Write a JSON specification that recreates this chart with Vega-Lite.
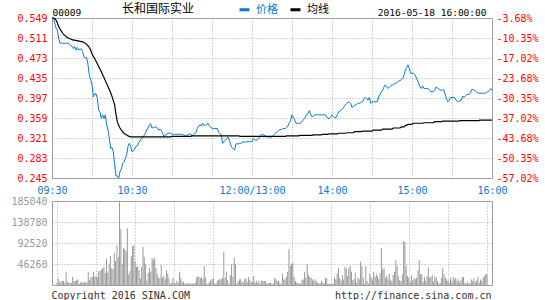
{
"$schema": "https://vega.github.io/schema/vega-lite/v6.json",
"padding": {"left": 10, "top": 3, "right": 5, "bottom": 0},
"bounds": "flush",
"spacing": 23,
"config": {
  "font": "DejaVu Sans Mono",
  "view": {"stroke": "#9a9a9a", "strokeWidth": 1},
  "axis": {"gridColor": "#aaaaaa", "gridDash": [1, 2], "gridWidth": 1, "domain": false, "ticks": false, "labelFont": "DejaVu Sans Mono", "labelFontSize": 10, "titleFont": "DejaVu Sans Mono", "titleFontWeight": "normal"}
},
"datasets": {"m": [
{"t":0,"p":0.549,"a":0.549,"v":5100},{"t":1,"p":0.549,"a":0.549,"v":14000},{"t":2,"p":0.540,"a":0.548,"v":5100},{"t":3,"p":0.530,"a":0.545,"v":7300},{"t":4,"p":0.526,"a":0.540,"v":8800},
{"t":5,"p":0.510,"a":0.533,"v":8800},{"t":6,"p":0.501,"a":0.528,"v":5100},{"t":7,"p":0.501,"a":0.524,"v":29400},{"t":8,"p":0.501,"a":0.520,"v":7300},{"t":9,"p":0.501,"a":0.517,"v":5100},
{"t":10,"p":0.501,"a":0.515,"v":5100},{"t":11,"p":0.501,"a":0.513,"v":5100},{"t":12,"p":0.501,"a":0.511,"v":18400},{"t":13,"p":0.499,"a":0.510,"v":8800},{"t":14,"p":0.497,"a":0.509,"v":8800},
{"t":15,"p":0.495,"a":0.508,"v":10300},{"t":16,"p":0.491,"a":0.507,"v":12500},{"t":17,"p":0.495,"a":0.507,"v":2900},{"t":18,"p":0.488,"a":0.506,"v":5100},{"t":19,"p":0.493,"a":0.506,"v":7300},
{"t":20,"p":0.488,"a":0.505,"v":5100},{"t":21,"p":0.490,"a":0.505,"v":7300},{"t":22,"p":0.490,"a":0.504,"v":4400},{"t":23,"p":0.485,"a":0.504,"v":6600},{"t":24,"p":0.475,"a":0.502,"v":29400},
{"t":25,"p":0.473,"a":0.501,"v":10300},{"t":26,"p":0.474,"a":0.499,"v":17600},{"t":27,"p":0.460,"a":0.496,"v":17600},{"t":28,"p":0.440,"a":0.493,"v":29400},{"t":29,"p":0.432,"a":0.488,"v":17600},
{"t":30,"p":0.422,"a":0.481,"v":20600},{"t":31,"p":0.399,"a":0.476,"v":17600},{"t":32,"p":0.405,"a":0.472,"v":30800},{"t":33,"p":0.405,"a":0.467,"v":30800},{"t":34,"p":0.396,"a":0.462,"v":34500},
{"t":35,"p":0.374,"a":0.457,"v":36700},{"t":36,"p":0.370,"a":0.452,"v":39600},{"t":37,"p":0.358,"a":0.447,"v":27200},{"t":38,"p":0.365,"a":0.441,"v":58000},{"t":39,"p":0.358,"a":0.436,"v":27200},
{"t":40,"p":0.365,"a":0.430,"v":45500},{"t":41,"p":0.346,"a":0.424,"v":63900},{"t":42,"p":0.336,"a":0.419,"v":36700},{"t":43,"p":0.320,"a":0.413,"v":34500},{"t":44,"p":0.301,"a":0.407,"v":71200},
{"t":45,"p":0.303,"a":0.400,"v":52800},{"t":46,"p":0.295,"a":0.392,"v":87300},{"t":47,"p":0.270,"a":0.384,"v":61700},{"t":48,"p":0.249,"a":0.366,"v":185040},{"t":49,"p":0.249,"a":0.352,"v":122600},
{"t":50,"p":0.245,"a":0.345,"v":45500},{"t":51,"p":0.257,"a":0.340,"v":82200},{"t":52,"p":0.262,"a":0.336,"v":78500},{"t":53,"p":0.273,"a":0.333,"v":74900},{"t":54,"p":0.275,"a":0.330,"v":124800},
{"t":55,"p":0.282,"a":0.328,"v":23500},{"t":56,"p":0.289,"a":0.327,"v":30800},{"t":57,"p":0.305,"a":0.325,"v":63900},{"t":58,"p":0.311,"a":0.324,"v":85900},{"t":59,"p":0.305,"a":0.323,"v":88100},
{"t":60,"p":0.295,"a":0.323,"v":51400},{"t":61,"p":0.297,"a":0.323,"v":39600},{"t":62,"p":0.300,"a":0.323,"v":41800},{"t":63,"p":0.305,"a":0.323,"v":32300},{"t":64,"p":0.306,"a":0.323,"v":14700},
{"t":65,"p":0.312,"a":0.323,"v":39600},{"t":66,"p":0.316,"a":0.323,"v":83700},{"t":67,"p":0.320,"a":0.323,"v":61700},{"t":68,"p":0.322,"a":0.323,"v":45500},{"t":69,"p":0.326,"a":0.323,"v":8800},
{"t":70,"p":0.330,"a":0.323,"v":27200},{"t":71,"p":0.336,"a":0.323,"v":38200},{"t":72,"p":0.340,"a":0.323,"v":29400},{"t":73,"p":0.346,"a":0.323,"v":60200},{"t":74,"p":0.348,"a":0.323,"v":55800},
{"t":75,"p":0.340,"a":0.323,"v":60200},{"t":76,"p":0.341,"a":0.323,"v":36700},{"t":77,"p":0.342,"a":0.323,"v":23500},{"t":78,"p":0.342,"a":0.323,"v":14700},{"t":79,"p":0.340,"a":0.323,"v":16100},
{"t":80,"p":0.336,"a":0.323,"v":44000},{"t":81,"p":0.338,"a":0.323,"v":16100},{"t":82,"p":0.335,"a":0.323,"v":19800},{"t":83,"p":0.330,"a":0.323,"v":12500},{"t":84,"p":0.323,"a":0.323,"v":32300},
{"t":85,"p":0.327,"a":0.323,"v":25000},{"t":86,"p":0.328,"a":0.323,"v":14700},{"t":87,"p":0.330,"a":0.323,"v":2900},{"t":88,"p":0.330,"a":0.323,"v":5100},{"t":89,"p":0.330,"a":0.323,"v":16100},
{"t":90,"p":0.328,"a":0.324,"v":5100},{"t":91,"p":0.328,"a":0.324,"v":2900},{"t":92,"p":0.328,"a":0.324,"v":8800},{"t":93,"p":0.328,"a":0.324,"v":5100},{"t":94,"p":0.328,"a":0.324,"v":29400},
{"t":95,"p":0.328,"a":0.324,"v":16100},{"t":96,"p":0.328,"a":0.324,"v":7300},{"t":97,"p":0.328,"a":0.324,"v":7300},{"t":98,"p":0.327,"a":0.324,"v":2900},{"t":99,"p":0.327,"a":0.324,"v":2900},
{"t":100,"p":0.325,"a":0.324,"v":4400},{"t":101,"p":0.326,"a":0.324,"v":2900},{"t":102,"p":0.327,"a":0.324,"v":5100},{"t":103,"p":0.328,"a":0.324,"v":2900},{"t":104,"p":0.329,"a":0.324,"v":2900},
{"t":105,"p":0.325,"a":0.325,"v":2900},{"t":106,"p":0.328,"a":0.325,"v":5100},{"t":107,"p":0.330,"a":0.325,"v":16100},{"t":108,"p":0.331,"a":0.325,"v":19800},{"t":109,"p":0.339,"a":0.325,"v":17600},
{"t":110,"p":0.344,"a":0.325,"v":14700},{"t":111,"p":0.346,"a":0.325,"v":17600},{"t":112,"p":0.344,"a":0.325,"v":12500},{"t":113,"p":0.349,"a":0.325,"v":41800},{"t":114,"p":0.344,"a":0.325,"v":16100},
{"t":115,"p":0.346,"a":0.325,"v":2900},{"t":116,"p":0.347,"a":0.325,"v":2900},{"t":117,"p":0.349,"a":0.325,"v":7300},{"t":118,"p":0.344,"a":0.325,"v":10300},{"t":119,"p":0.342,"a":0.325,"v":13200},
{"t":120,"p":0.339,"a":0.325,"v":14700},{"t":121,"p":0.339,"a":0.325,"v":2900},{"t":122,"p":0.339,"a":0.325,"v":2900},{"t":123,"p":0.339,"a":0.325,"v":8800},{"t":124,"p":0.339,"a":0.325,"v":11700},
{"t":125,"p":0.332,"a":0.325,"v":12500},{"t":126,"p":0.329,"a":0.325,"v":12500},{"t":127,"p":0.327,"a":0.325,"v":16100},{"t":128,"p":0.311,"a":0.325,"v":73400},{"t":129,"p":0.314,"a":0.325,"v":16100},
{"t":130,"p":0.317,"a":0.325,"v":29400},{"t":131,"p":0.320,"a":0.325,"v":10300},{"t":132,"p":0.323,"a":0.325,"v":2900},{"t":133,"p":0.317,"a":0.325,"v":22000},{"t":134,"p":0.308,"a":0.325,"v":45500},
{"t":135,"p":0.303,"a":0.325,"v":18400},{"t":136,"p":0.300,"a":0.325,"v":60200},{"t":137,"p":0.298,"a":0.325,"v":45500},{"t":138,"p":0.310,"a":0.325,"v":2900},{"t":139,"p":0.310,"a":0.325,"v":8800},
{"t":140,"p":0.310,"a":0.325,"v":12500},{"t":141,"p":0.311,"a":0.324,"v":12500},{"t":142,"p":0.311,"a":0.324,"v":7300},{"t":143,"p":0.314,"a":0.324,"v":5100},{"t":144,"p":0.313,"a":0.324,"v":12500},
{"t":145,"p":0.313,"a":0.324,"v":14700},{"t":146,"p":0.314,"a":0.324,"v":7300},{"t":147,"p":0.314,"a":0.324,"v":17600},{"t":148,"p":0.314,"a":0.324,"v":10300},{"t":149,"p":0.314,"a":0.324,"v":7300},
{"t":150,"p":0.314,"a":0.324,"v":7300},{"t":151,"p":0.320,"a":0.324,"v":19800},{"t":152,"p":0.317,"a":0.324,"v":5100},{"t":153,"p":0.317,"a":0.324,"v":8800},{"t":154,"p":0.317,"a":0.324,"v":4400},
{"t":155,"p":0.320,"a":0.324,"v":8800},{"t":156,"p":0.323,"a":0.324,"v":2900},{"t":157,"p":0.328,"a":0.324,"v":10000},{"t":158,"p":0.328,"a":0.324,"v":8800},{"t":159,"p":0.326,"a":0.324,"v":8800},
{"t":160,"p":0.325,"a":0.324,"v":8800},{"t":161,"p":0.323,"a":0.324,"v":2900},{"t":162,"p":0.323,"a":0.324,"v":4400},{"t":163,"p":0.323,"a":0.324,"v":4400},{"t":164,"p":0.323,"a":0.324,"v":5100},
{"t":165,"p":0.323,"a":0.324,"v":2900},{"t":166,"p":0.326,"a":0.324,"v":2900},{"t":167,"p":0.329,"a":0.324,"v":16100},{"t":168,"p":0.331,"a":0.324,"v":12500},{"t":169,"p":0.333,"a":0.324,"v":8800},
{"t":170,"p":0.335,"a":0.324,"v":8800},{"t":171,"p":0.337,"a":0.324,"v":5100},{"t":172,"p":0.337,"a":0.324,"v":2900},{"t":173,"p":0.339,"a":0.324,"v":25000},{"t":174,"p":0.339,"a":0.324,"v":12500},
{"t":175,"p":0.339,"a":0.324,"v":12500},{"t":176,"p":0.341,"a":0.325,"v":17600},{"t":177,"p":0.344,"a":0.325,"v":29400},{"t":178,"p":0.350,"a":0.325,"v":78500},{"t":179,"p":0.355,"a":0.325,"v":41800},
{"t":180,"p":0.365,"a":0.325,"v":45500},{"t":181,"p":0.360,"a":0.325,"v":49200},{"t":182,"p":0.355,"a":0.325,"v":17600},{"t":183,"p":0.349,"a":0.325,"v":8800},{"t":184,"p":0.349,"a":0.325,"v":5100},
{"t":185,"p":0.349,"a":0.325,"v":5100},{"t":186,"p":0.349,"a":0.326,"v":2900},{"t":187,"p":0.351,"a":0.326,"v":2900},{"t":188,"p":0.354,"a":0.326,"v":10300},{"t":189,"p":0.357,"a":0.326,"v":12500},
{"t":190,"p":0.361,"a":0.326,"v":29400},{"t":191,"p":0.365,"a":0.326,"v":16100},{"t":192,"p":0.368,"a":0.326,"v":45500},{"t":193,"p":0.373,"a":0.326,"v":22000},{"t":194,"p":0.366,"a":0.326,"v":17600},
{"t":195,"p":0.361,"a":0.326,"v":16100},{"t":196,"p":0.363,"a":0.327,"v":12500},{"t":197,"p":0.365,"a":0.327,"v":8800},{"t":198,"p":0.365,"a":0.327,"v":12500},{"t":199,"p":0.365,"a":0.327,"v":8800},
{"t":200,"p":0.365,"a":0.327,"v":5100},{"t":201,"p":0.365,"a":0.327,"v":5100},{"t":202,"p":0.365,"a":0.327,"v":2900},{"t":203,"p":0.365,"a":0.328,"v":8800},{"t":204,"p":0.365,"a":0.328,"v":5100},
{"t":205,"p":0.365,"a":0.328,"v":5100},{"t":206,"p":0.361,"a":0.328,"v":14700},{"t":207,"p":0.358,"a":0.328,"v":16100},{"t":208,"p":0.358,"a":0.329,"v":2900},{"t":209,"p":0.360,"a":0.329,"v":2900},
{"t":210,"p":0.365,"a":0.329,"v":2900},{"t":211,"p":0.362,"a":0.329,"v":2900},{"t":212,"p":0.360,"a":0.329,"v":2900},{"t":213,"p":0.360,"a":0.329,"v":16100},{"t":214,"p":0.365,"a":0.329,"v":12500},
{"t":215,"p":0.371,"a":0.330,"v":25000},{"t":216,"p":0.372,"a":0.330,"v":36700},{"t":217,"p":0.374,"a":0.330,"v":16100},{"t":218,"p":0.377,"a":0.330,"v":8800},{"t":219,"p":0.380,"a":0.330,"v":22000},
{"t":220,"p":0.384,"a":0.330,"v":12500},{"t":221,"p":0.387,"a":0.331,"v":40400},{"t":222,"p":0.389,"a":0.331,"v":36700},{"t":223,"p":0.389,"a":0.331,"v":19800},{"t":224,"p":0.387,"a":0.331,"v":36700},
{"t":225,"p":0.379,"a":0.331,"v":41800},{"t":226,"p":0.381,"a":0.331,"v":29400},{"t":227,"p":0.383,"a":0.333,"v":10300},{"t":228,"p":0.384,"a":0.333,"v":12500},{"t":229,"p":0.387,"a":0.333,"v":27200},
{"t":230,"p":0.387,"a":0.333,"v":5100},{"t":231,"p":0.387,"a":0.333,"v":16100},{"t":232,"p":0.389,"a":0.333,"v":12500},{"t":233,"p":0.390,"a":0.334,"v":51400},{"t":234,"p":0.396,"a":0.334,"v":41800},
{"t":235,"p":0.398,"a":0.334,"v":16100},{"t":236,"p":0.396,"a":0.334,"v":2900},{"t":237,"p":0.393,"a":0.334,"v":41800},{"t":238,"p":0.398,"a":0.334,"v":8800},{"t":239,"p":0.387,"a":0.334,"v":2900},
{"t":240,"p":0.390,"a":0.334,"v":25000},{"t":241,"p":0.390,"a":0.336,"v":17600},{"t":242,"p":0.390,"a":0.336,"v":12500},{"t":243,"p":0.390,"a":0.336,"v":29400},{"t":244,"p":0.390,"a":0.336,"v":17600},
{"t":245,"p":0.399,"a":0.336,"v":25000},{"t":246,"p":0.404,"a":0.336,"v":19800},{"t":247,"p":0.408,"a":0.336,"v":12500},{"t":248,"p":0.412,"a":0.338,"v":27200},{"t":249,"p":0.418,"a":0.338,"v":80700},
{"t":250,"p":0.422,"a":0.338,"v":34500},{"t":251,"p":0.418,"a":0.338,"v":38200},{"t":252,"p":0.415,"a":0.338,"v":16100},{"t":253,"p":0.418,"a":0.338,"v":19800},{"t":254,"p":0.420,"a":0.338,"v":12500},
{"t":255,"p":0.422,"a":0.338,"v":25000},{"t":256,"p":0.422,"a":0.340,"v":10300},{"t":257,"p":0.424,"a":0.340,"v":8800},{"t":258,"p":0.425,"a":0.340,"v":22000},{"t":259,"p":0.427,"a":0.340,"v":29400},
{"t":260,"p":0.429,"a":0.340,"v":54300},{"t":261,"p":0.430,"a":0.340,"v":41800},{"t":262,"p":0.432,"a":0.342,"v":19800},{"t":263,"p":0.434,"a":0.342,"v":10300},{"t":264,"p":0.440,"a":0.342,"v":8800},
{"t":265,"p":0.450,"a":0.345,"v":23500},{"t":266,"p":0.455,"a":0.345,"v":96900},{"t":267,"p":0.460,"a":0.347,"v":95000},{"t":268,"p":0.453,"a":0.347,"v":41800},{"t":269,"p":0.444,"a":0.347,"v":19800},
{"t":270,"p":0.444,"a":0.347,"v":16100},{"t":271,"p":0.444,"a":0.349,"v":7300},{"t":272,"p":0.441,"a":0.349,"v":22000},{"t":273,"p":0.437,"a":0.349,"v":10300},{"t":274,"p":0.431,"a":0.349,"v":16100},
{"t":275,"p":0.425,"a":0.349,"v":12500},{"t":276,"p":0.418,"a":0.349,"v":16100},{"t":277,"p":0.415,"a":0.349,"v":32300},{"t":278,"p":0.420,"a":0.349,"v":54300},{"t":279,"p":0.415,"a":0.350,"v":23500},
{"t":280,"p":0.415,"a":0.350,"v":23500},{"t":281,"p":0.415,"a":0.350,"v":7300},{"t":282,"p":0.415,"a":0.350,"v":17600},{"t":283,"p":0.412,"a":0.350,"v":8800},{"t":284,"p":0.409,"a":0.350,"v":19800},
{"t":285,"p":0.409,"a":0.350,"v":38200},{"t":286,"p":0.409,"a":0.350,"v":16100},{"t":287,"p":0.412,"a":0.352,"v":17600},{"t":288,"p":0.418,"a":0.352,"v":22000},{"t":289,"p":0.416,"a":0.352,"v":7300},
{"t":290,"p":0.415,"a":0.352,"v":19100},{"t":291,"p":0.412,"a":0.352,"v":16100},{"t":292,"p":0.412,"a":0.352,"v":8800},{"t":293,"p":0.412,"a":0.353,"v":2900},{"t":294,"p":0.412,"a":0.353,"v":5100},
{"t":295,"p":0.403,"a":0.353,"v":16100},{"t":296,"p":0.395,"a":0.353,"v":38200},{"t":297,"p":0.390,"a":0.353,"v":23500},{"t":298,"p":0.393,"a":0.353,"v":16100},{"t":299,"p":0.398,"a":0.353,"v":12500},
{"t":300,"p":0.398,"a":0.353,"v":8800},{"t":301,"p":0.398,"a":0.353,"v":5100},{"t":302,"p":0.398,"a":0.353,"v":16100},{"t":303,"p":0.393,"a":0.353,"v":8800},{"t":304,"p":0.391,"a":0.353,"v":17600},
{"t":305,"p":0.390,"a":0.353,"v":12500},{"t":306,"p":0.392,"a":0.354,"v":16100},{"t":307,"p":0.393,"a":0.354,"v":8800},{"t":308,"p":0.401,"a":0.354,"v":12500},{"t":309,"p":0.398,"a":0.354,"v":5100},
{"t":310,"p":0.401,"a":0.354,"v":10300},{"t":311,"p":0.403,"a":0.354,"v":17600},{"t":312,"p":0.404,"a":0.354,"v":17600},{"t":313,"p":0.404,"a":0.354,"v":5100},{"t":314,"p":0.408,"a":0.354,"v":2900},
{"t":315,"p":0.414,"a":0.354,"v":7300},{"t":316,"p":0.412,"a":0.354,"v":2900},{"t":317,"p":0.412,"a":0.354,"v":5100},{"t":318,"p":0.409,"a":0.354,"v":12000},{"t":319,"p":0.407,"a":0.354,"v":8000},
{"t":320,"p":0.406,"a":0.354,"v":15000},{"t":321,"p":0.406,"a":0.355,"v":6000},{"t":322,"p":0.406,"a":0.355,"v":10000},{"t":323,"p":0.406,"a":0.355,"v":18000},{"t":324,"p":0.406,"a":0.355,"v":5000},
{"t":325,"p":0.406,"a":0.355,"v":12000},{"t":326,"p":0.408,"a":0.355,"v":9000},{"t":327,"p":0.409,"a":0.355,"v":16000},{"t":328,"p":0.411,"a":0.355,"v":20000},{"t":329,"p":0.415,"a":0.355,"v":24000},
{"t":330,"p":0.412,"a":0.355,"v":24000}
]},
"vconcat": [
  {
    "width": 440, "height": 160,
    "data": {"name": "m"},
    "encoding": {
      "x": {"field": "t", "type": "quantitative", "scale": {"domain": [0, 330], "nice": false, "zero": false},
        "axis": {"values": [0,30,60,90,120,150,180,210,240,270,300,330], "labelExpr": "datum.value == 0 ? '09:30' : datum.value == 60 ? '10:30' : datum.value == 150 ? '12:00/13:00' : datum.value == 210 ? '14:00' : datum.value == 270 ? '15:00' : datum.value == 330 ? '16:00' : ''", "labelFlush": false, "labelOverlap": false, "labelBound": false, "labelSeparation": 0, "labelColor": "#0b7bd0", "labelPadding": 7, "title": null, "grid": true}}
    },
    "layer": [
      {
        "mark": {"type": "line", "strokeWidth": 1},
        "encoding": {
          "y": {"field": "p", "type": "quantitative", "scale": {"domain": [0.245, 0.549], "nice": false, "zero": false},
            "axis": {"orient": "left", "values": [0.245,0.283,0.321,0.359,0.397,0.435,0.473,0.511,0.549], "format": ".3f", "labelAlign": "right", "labelColor": "#ff0000", "labelPadding": 5, "grid": true, "minExtent": 40, "maxExtent": 40,
              "title": "00009", "titleAngle": 0, "titleAlign": "left", "titleBaseline": "alphabetic", "titleX": 0, "titleY": -3, "titleColor": "#000000", "titleFontSize": 9.5}},
          "color": {"datum": "价格", "type": "nominal", "scale": {"domain": ["价格", "均线"], "range": ["#0b7bd0", "#000000"]},
            "legend": {"orient": "none", "legendX": 70, "legendY": -15, "direction": "horizontal", "title": "长和国际实业", "titleOrient": "left", "titleFont": "Noto Sans CJK SC", "titleFontSize": 12, "titleFontWeight": "normal", "titleColor": "#000000", "titlePadding": 43, "titleBaseline": "middle",
              "symbolType": "stroke", "symbolSize": 100, "symbolStrokeWidth": 3, "labelFont": "Noto Sans CJK SC", "labelFontSize": 11, "labelOffset": 5, "columnPadding": 6, "padding": 0,
              "encode": {"labels": {"update": {"fill": {"signal": "datum.label == '价格' ? '#0b7bd0' : '#000000'"}}}}}}
        }
      },
      {
        "mark": {"type": "line", "strokeWidth": 1.2},
        "encoding": {
          "y": {"field": "a", "type": "quantitative",
            "axis": {"orient": "right", "values": [0.245,0.283,0.321,0.359,0.397,0.435,0.473,0.511,0.549], "labelExpr": "'-' + format((1 - datum.value / 0.57) * 100, '.2f') + '%'", "labelAlign": "left", "labelColor": "#ff0000", "labelPadding": 4, "grid": false,
              "title": "2016-05-18 16:00:00", "titleAngle": 0, "titleAlign": "right", "titleBaseline": "alphabetic", "titleX": -6, "titleY": -3, "titleColor": "#000000", "titleFontSize": 9.5}},
          "color": {"datum": "均线", "type": "nominal"}
        }
      }
    ],
    "resolve": {"axis": {"y": "independent"}}
  },
  {
    "width": 440, "height": 84,
    "data": {"name": "m"},
    "mark": {"type": "bar", "size": 1, "color": "#999999"},
    "encoding": {
      "x": {"field": "t", "type": "quantitative", "scale": {"domain": [0, 330], "nice": false, "zero": false},
        "axis": {"values": [0,30,60,90,120,150,180,210,240,270,300,330], "labels": false, "grid": true,
          "title": "http://finance.sina.com.cn", "titleAnchor": "end", "titleAlign": "right", "titleBaseline": "alphabetic", "titleX": 439, "titleY": 13, "titleColor": "#333333", "titleFontSize": 10}},
      "y": {"field": "v", "type": "quantitative", "scale": {"domain": [0, 185040], "nice": false},
        "axis": {"orient": "left", "values": [0,46260,92520,138780,185040], "labelExpr": "datum.value == 0 ? '' : format(datum.value, 'd')", "labelAlign": "right", "labelColor": "#999999", "labelPadding": 5, "grid": true, "minExtent": 40, "maxExtent": 40,
          "title": "Copyright 2016 SINA.COM", "titleAngle": 0, "titleAlign": "left", "titleBaseline": "alphabetic", "titleX": -1, "titleY": 97, "titleColor": "#333333", "titleFontSize": 10}}
    }
  }
]
}
